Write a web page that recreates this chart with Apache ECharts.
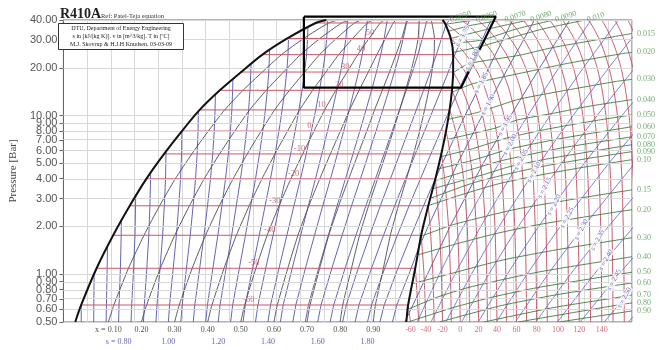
<!DOCTYPE html>
<html><head><meta charset="utf-8">
<script src="https://cdn.jsdelivr.net/npm/echarts@6/dist/echarts.min.js"></script>
<style>html,body{margin:0;padding:0;background:#fff}#c{width:666px;height:350px}</style>
</head><body><div id="c"></div>
<script>
// ---------------- DATA (read / estimated from the picture) ----------------
const P_TICKS = [0.5,0.6,0.7,0.8,0.9,1,2,3,4,5,6,7,8,9,10,20,30,40];
// saturation table
const SAT_T  = [-63,-60,-50,-40,-30,-20,-10,0,10,20,30,40,50,60,64];
const SAT_P  = [0.50,0.64,1.09,1.76,2.70,3.99,5.73,7.98,10.85,14.42,18.8,24.2,30.6,38.3,40.0];
const SAT_HL = [110,115,128,142,156,170,185,200,215,232,250,268,289,313,322];
const SAT_HV = [389.5,391,397,402,408,414,419,423,426,428,429,429,427,422,420];
const SAT_SL = [0.626,0.650,0.710,0.771,0.830,0.886,0.944,1.000,1.054,1.113,1.173,1.231,1.297,1.370,1.397];
// quality lines
const QUALITY = [0.1,0.2,0.3,0.4,0.5,0.6,0.7,0.8,0.9];
// isentropes through two-phase region
const S_2PH = [0.65,0.70,0.75,0.80,0.85,0.90,0.95,1.00,1.05,1.10,1.15,1.20,1.25,1.30,1.35,1.40,1.45,1.50,1.55,1.60,1.65,1.70,1.75,1.80,1.85,1.90,1.95];
// where isentropes meet the saturated-liquid line
const S_LIQ_S = [0.65,0.70,0.75,0.80,0.85,0.90,0.95,1.00,1.05,1.10,1.15,1.20,1.25,1.30,1.35];
const S_LIQ_H = [115,125.9,137.2,148.9,161,173.6,186.6,200,213.9,228.3,243.1,258.4,274,290,306.4];
const S_LIQ_P = [0.64,1.01,1.53,2.22,3.16,4.41,5.97,7.98,10.64,13.63,17.12,21.3,26.0,30.9,36.2];
// isentropes in superheated region
const ISEN_S = [1.70,1.75,1.80,1.85,1.90,1.95,2.00,2.05,2.10,2.15,2.20,2.25,2.30,2.35,2.40,2.45,2.50,2.55];
const ISEN_H = [
 [423,426],[429,435.9,442.9],[426,434.6,442.5,453.4,461],[414,419.9,439,459.1,479.3],
 [399.8,407.9,432.8,453.5,475.4,497.7],[389.5,407.3,426.4,454.4,477.6,502.1,527.4],
 [398.7,417.4,437.7,467.5,492.1,518.3,545.4],[410.3,430.5,452.4,484.4,510.9,539,568.5],
 [422.9,444.4,467.8,502,530.3,560.4,592],[436.1,459.1,484.1,520.5,550.5,582.6,617],
 [450.2,474.7,501.2,539.7,571.5,605.5],[465.4,491.4,519.5,560.5,594.2],
 [481.5,509.1,539.2,582.3],[498.8,528.1,560.1,606],[517.1,548,581.7,618],
 [536.3,568.9,604],[556.5,590.3],[577,612]];
const ISEN_P = [
 [37.5,40],[22.8,30,40],[10.85,15,20,30,40],[3.99,5,10,20,40],
 [1.46,2,5,10,20,40],[0.5,1,2,5,10,20,40],[0.5,1,2,5,10,20,40],[0.5,1,2,5,10,20,40],
 [0.5,1,2,5,10,20,40],[0.5,1,2,5,10,20,40],[0.5,1,2,5,10,20],[0.5,1,2,5,10],
 [0.5,1,2,5],[0.5,1,2,5],[0.5,1,2,4],[0.5,1,2],[0.5,1],[0.5,1]];
const ISEN_LBL_S = [1.75,1.80,1.85,1.90,1.95,2.00,2.05,2.10,2.15,2.20,2.25,2.30,2.35,2.40,2.45,2.50];
const ISEN_LBL_H = [437,445,452.8,458.5,473,477,486.4,497.2,506.3,514.3,525.2,537.2,550.9,558,565,573.6];
const ISEN_LBL_P = [31.6,22.5,16.1,11.7,8.7,6.55,5.27,4.4,3.5,2.73,2.27,1.91,1.64,1.23,0.92,0.71];
// isotherms in superheated region (h at P_GRID, up to saturation)
const P_GRID = [0.5,1,2,4,7,10,15,20,25,30,35,40];
const ISOT_T = [-60,-50,-40,-30,-20,-10,0,10,20,30,40,50,60,70,80,90,100,110,120,130,140,150,160,170,180,190];
const ISOT_H = [
 [393],[400,397.5],[406,404.4],[413,411.9,409.6],[420,419.1,417.4],[427.5,426.7,425.1,421.8],
 [435,434.2,432.6,429.4,424.6],[443,442.3,440.9,437.8,432.9,427.6],[450.5,449.8,448.5,445.7,441.1,436.1],
 [458,457.4,456.2,453.5,449.3,444.7,436.2],[466,465.4,464.3,461.9,458.0,453.8,446.0,437.1],
 [474,473.5,472.5,470.3,466.7,462.8,455.6,447.4,438.3,428.2],
 [482.5,482,481,479,475.6,471.9,465.1,457.5,448.9,439.5,429.2],
 [491,490.6,489.7,487.9,484.9,481.7,475.8,469.2,462,454,445.4,436],
 [499.5,499.1,498.3,496.6,493.8,490.9,485.5,479.5,473,465.9,458.2,450],
 [508.5,508.1,507.4,505.8,503.2,500.5,495.6,490.2,484.4,478,471.2,464],
 [517.5,517.1,516.4,514.9,512.5,509.9,505.3,500.3,494.9,489,482.7,476],
 [526.5,526.2,525.5,524,521.8,519.4,515.1,510.4,505.4,500,494.2,488],
 [535.5,535.2,534.5,533.1,531,528.7,524.6,520.2,515.5,510.3,504.9,499],
 [545,544.7,544.1,542.8,540.7,538.5,534.7,530.5,526,521.1,516,510.5],
 [554.5,554.2,553.6,552.3,550.4,548.3,544.5,540.5,536.2,531.6,526.7,521.5],
 [564,563.7,563.1,561.9,560,558,554.4,550.6,546.5,542.1,537.5,532.5],
 [573.5,573.2,572.6,571.5,569.6,567.7,564.3,560.6,556.7,552.6,548.1,543.5],
 [583,582.7,582.2,581.1,579.3,577.5,574.2,570.7,567,563.1,558.9,554.5],
 [592.5,592.2,591.7,590.6,588.9,587.2,584.1,580.8,577.3,573.5,569.6,565.5],
 [602,601.8,601.2,600.2,598.6,596.9,594,590.9,587.5,584,580.3,576.5]];
const T_BOTTOM = [-60,-40,-20,0,20,40,60,80,100,120,140];
// isochores (specific volume)
const ISOV_LABEL = ['0.0050','0.0060','0.0070','0.0080','0.0090','0.010','0.015','0.020','0.030','0.040','0.050','0.060','0.070','0.080','0.090','0.10','0.15','0.20','0.30','0.40','0.50','0.60','0.70','0.80','0.90'];
const ISOV_H = [
 [421,424.7],[422.5,446.6],[425,444,470.9],[427,458,492.7],[428.2,454,481.7,513.7],[429,450,471.9,503.9,540.5],
 [429,442,485.3,511.8,549,570.8,580],[427.8,446,487.7,525.4,548.4,571,580],[424.5,451.6,484.6,532.5,566.6,580],
 [421.3,464.3,482.8,515.6,543.6,580],[418.3,445.4,474,509.5,548.3,580],[415.8,443.2,478.6,523.3,570,580],
 [413.4,448.8,470,520.2,576.5,580],[411.3,453.5,476.2,505.5,568.2,580],[409.3,446.2,476.1,508.2,543.7,580],
 [407.6,436.6,467.1,504,542.5,580],[401.6,429.6,483.5,544.5,580],[398.5,429.9,464.6,502,567,580],
 [394,429.4,471,517.4,567,580],[390.5,416.3,443.2,500.4,566,580],[391,429.5,463.5,500.3,580],
 [417.5,469.5,514.7,563.5,580],[455,514,571,580],[484,562,580],[518.5,580]];
const ISOV_P = [
 [39.5,40],[37.6,40],[34,37,40],[30.6,35,40],[28.4,30,35,40],[25,27,30,35,40],
 [18.6,21.2,24,26.7,29.9,32,32.9],[14,15.9,18.6,21.3,22.9,24.5,25],[9.45,10.56,12.67,14.8,16.4,16.9],
 [7.0,8.32,9.36,10.4,11.44,12.6],[5.5,6.18,7.21,8.24,9.27,10.1],[4.6,5.17,6.2,7.24,8.27,8.5],
 [3.88,4.68,5.2,6.24,7.28,7.36],[3.45,4.22,4.75,5.28,6.34,6.55],[3.0,3.77,4.3,4.84,5.38,5.92],
 [2.7,3.18,3.71,4.24,4.77,5.27],[1.73,2.06,2.58,3.09,3.4],[1.32,1.54,1.8,2.06,2.47,2.55],
 [0.87,1.02,1.23,1.43,1.64,1.70],[0.6,0.72,0.83,1.03,1.24,1.29],[0.5,0.618,0.721,0.824,1.03],
 [0.5,0.634,0.739,0.845,0.88],[0.5,0.617,0.72,0.74],[0.5,0.629,0.66],[0.5,0.587]];
// labels of two-phase isotherms
const TL_T = [-60,-50,-40,-30,-20,-10,0,10,20,30,40,50];
const TL_H = [256.6,260.8,274.2,278.4,294.3,299.3,307.7,317.8,332.8,337.9,351.3,358.8];
const S_BOTTOM = [0.8,1.0,1.2,1.4,1.6,1.8];
// highlighted region (black frame)
const BOX_H = [303,465,435.7,303,303];
const BOX_P = [42,42,15,15,42];

// ---------------- BUILD ----------------
const L = Math.log10;
const C_RED = '#c4485c', C_RED2 = '#c85a6a', C_BLUE = '#5555a8', C_BLUE2 = '#7070d0', C_Q = '#4a4a58', C_GREEN = '#3f7a3f', C_GLBL = '#4e944e';
const series = [];
function line(pts, color, width, z, extra) {
  return Object.assign({type:'line', data: pts.map(q => [q[0], L(q[1])]), symbol:'none', silent:true,
    animation:false, lineStyle:{color:color, width:width}, z:z, clip:true}, extra || {});
}
const N = SAT_T.length;
// gridlines (horizontal)
series.push({type:'line', data:[], silent:true, animation:false, z:1,
  markLine:{silent:true, symbol:'none', animation:false, label:{show:false},
    lineStyle:{color:'#d8d8d8', type:'solid', width:1},
    data:P_TICKS.map(p => ({yAxis:L(p)}))}});
// two-phase isentropes
S_2PH.forEach(s => {
  const pts = [];
  for (let i = 0; i < N; i++) {
    const T = SAT_T[i] + 273.15;
    const sv = SAT_SL[i] + (SAT_HV[i] - SAT_HL[i]) / T;
    if (s >= SAT_SL[i] - 1e-9 && s <= sv + 1e-9) pts.push([SAT_HL[i] + T * (s - SAT_SL[i]), SAT_P[i]]);
  }
  const k = S_LIQ_S.findIndex(v => Math.abs(v - s) < 1e-6);
  if (k >= 0) pts.push([S_LIQ_H[k], S_LIQ_P[k]]);
  const j = ISEN_S.findIndex(v => Math.abs(v - s) < 1e-6);
  if (j >= 0) ISEN_H[j].forEach((h, m) => pts.push([h, ISEN_P[j][m]]));
  pts.sort((a, b) => a[1] - b[1]);
  series.push(line(pts, C_BLUE, 0.9, 3));
});
// superheat isentropes (not through dome)
ISEN_S.forEach((s, j) => {
  if (S_2PH.some(v => Math.abs(v - s) < 1e-6)) return;
  series.push(line(ISEN_H[j].map((h, m) => [h, ISEN_P[j][m]]), C_BLUE2, 0.9, 3, {smooth:0.2}));
});
// quality lines
QUALITY.forEach(x => {
  series.push(line(SAT_T.map((t, i) => [SAT_HL[i] + x * (SAT_HV[i] - SAT_HL[i]), SAT_P[i]]), C_Q, 0.9, 4, {smooth:0.2}));
});
// two-phase isotherms
for (let i = 1; i < N - 1; i++) series.push(line([[SAT_HL[i], SAT_P[i]], [SAT_HV[i], SAT_P[i]]], C_RED2, 1, 4));
// superheat isotherms
ISOT_T.forEach((t, j) => {
  const pts = ISOT_H[j].map((h, m) => [h, P_GRID[m]]);
  const si = SAT_T.indexOf(t);
  if (si >= 0) pts.push([SAT_HV[si], SAT_P[si]]);
  series.push(line(pts, C_RED, 0.9, 3, {smooth:0.2}));
});
// isochores
ISOV_LABEL.forEach((lb, j) => {
  series.push(line(ISOV_H[j].map((h, m) => [h, ISOV_P[j][m]]), C_GREEN, 0.9, 3, {smooth:0.2}));
});
// dome
series.push(line(SAT_T.map((t, i) => [SAT_HL[i], SAT_P[i]]), '#111', 2, 8, {smooth:0.3}));
series.push(line(SAT_T.map((t, i) => [SAT_HV[i], SAT_P[i]]), '#111', 2, 8, {smooth:0.3}));
// box
series.push(line(BOX_H.map((h, i) => [h, BOX_P[i]]), '#000', 2.2, 9, {clip:false}));

// labels
function lbl(items, label, z) {
  return {type:'scatter', symbolSize:0, itemStyle:{color:'rgba(0,0,0,0)'}, silent:true, animation:false, clip:false, z:z || 10,
    data: items.map(it => ({name: it[2], value:[it[0], L(it[1])]})),
    label: Object.assign({show:true, formatter:'{b}', fontFamily:'Liberation Serif', fontSize:8}, label),
    labelLayout:{hideOverlap:false}};
}
const FONT = 'Liberation Serif';
// two-phase isotherm labels
series.push(lbl(TL_T.map((t, k) => [TL_H[k], SAT_P[SAT_T.indexOf(t)], String(t)]),
  {position:'top', distance:1, color:C_RED, fontSize:8.5}));
// bottom quality labels
const T0 = SAT_T[0] + 273.15;
series.push(lbl(QUALITY.map(x => [SAT_HL[0] + x * (SAT_HV[0] - SAT_HL[0]), 0.5, x.toFixed(2)]).slice(1),
  {position:'bottom', distance:4, color:'#222'}));
series.push(lbl([[SAT_HL[0] + QUALITY[0] * (SAT_HV[0] - SAT_HL[0]), 0.5, 'x = ' + QUALITY[0].toFixed(2)]],
  {position:'bottom', distance:4, color:'#222', offset:[-8,0]}));
// bottom entropy labels
series.push(lbl(S_BOTTOM.map(s => [SAT_HL[0] + T0 * (s - SAT_SL[0]), 0.5, s.toFixed(2)]).slice(1),
  {position:'bottom', distance:16, color:'#3a3aa0'}));
series.push(lbl([[SAT_HL[0] + T0 * (S_BOTTOM[0] - SAT_SL[0]), 0.5, 's = ' + S_BOTTOM[0].toFixed(2)]],
  {position:'bottom', distance:16, color:'#3a3aa0', offset:[-8,0]}));
// bottom temperature labels
series.push(lbl(T_BOTTOM.map(t => [ISOT_H[ISOT_T.indexOf(t)][0], 0.5, String(t)]),
  {position:'bottom', distance:4, color:C_RED}));
// isochore labels
const rightItems = [], topItems = [];
ISOV_LABEL.forEach((lb, j) => {
  const n = ISOV_H[j].length;
  const it = [ISOV_H[j][n - 1], ISOV_P[j][n - 1], lb];
  if (ISOV_H[j][n - 1] >= 580) rightItems.push(it); else topItems.push(it);
});
series.push(lbl(rightItems, {position:'right', distance:5, color:C_GLBL, fontSize:8}));
series.push(lbl(topItems, {position:'right', distance:2, rotate:18, color:C_GLBL, fontSize:8, offset:[0,-6]}));
// isentrope labels
series.push(lbl(ISEN_LBL_S.map((s, k) => [ISEN_LBL_H[k], ISEN_LBL_P[k], 's = ' + s.toFixed(2)]),
  {position:'inside', rotate:62, color:'#3a3ab0', fontSize:7, backgroundColor:'#fff', padding:[0,1]}, 11));

const chart = echarts.init(document.getElementById('c'), null, {renderer:'canvas'});
chart.setOption({
  backgroundColor:'#fff',
  animation:false,
  grid:{left:60, right:34, top:20, bottom:28, show:true, borderColor:'#666', borderWidth:1},
  xAxis:{type:'value', min:100, max:580, interval:20,
    axisLabel:{show:false}, axisTick:{show:false}, axisLine:{show:false},
    splitLine:{show:true, lineStyle:{color:'#d8d8d8', width:1}}},
  yAxis:{type:'value', min:L(0.5), max:L(40),
    name:'Pressure [Bar]', nameLocation:'middle', nameGap:36,
    nameTextStyle:{fontFamily:FONT, fontSize:11, color:'#444'},
    axisLine:{show:true, lineStyle:{color:'#666'}},
    axisTick:{show:true, length:4, customValues:P_TICKS.map(L), lineStyle:{color:'#666'}},
    axisLabel:{customValues:P_TICKS.map(L), formatter:v => Math.pow(10, v).toFixed(2),
      fontFamily:'Liberation Sans', fontSize:11, color:'#555', margin:6},
    splitLine:{show:false}},
  series: series,
  graphic:[
    {type:'text', left:60, top:7, z:20, style:{text:'R410A', font:'bold 14px "Liberation Serif"', fill:'#222'}},
    {type:'text', left:101, top:13, z:20, style:{text:'Ref: Patel-Teja equation', font:'6.5px "Liberation Serif"', fill:'#333'}},
    {type:'rect', z:20, shape:{x:58.5, y:23.5, width:125, height:26}, style:{fill:'#fff', stroke:'#333', lineWidth:1}},
    {type:'text', z:21, x:121, y:25, style:{text:'DTU, Department of Energy Engineering', font:'6px "Liberation Serif"', fill:'#222', align:'center'}},
    {type:'text', z:21, x:121, y:33, style:{text:'s in [kJ/(kg K)]. v in [m^3/kg]. T in [ºC]', font:'6px "Liberation Serif"', fill:'#222', align:'center'}},
    {type:'text', z:21, x:121, y:41, style:{text:'M.J. Skovrup & H.J.H Knudsen. 03-03-09', font:'6px "Liberation Serif"', fill:'#222', align:'center'}}
  ]
});
</script></body></html>
